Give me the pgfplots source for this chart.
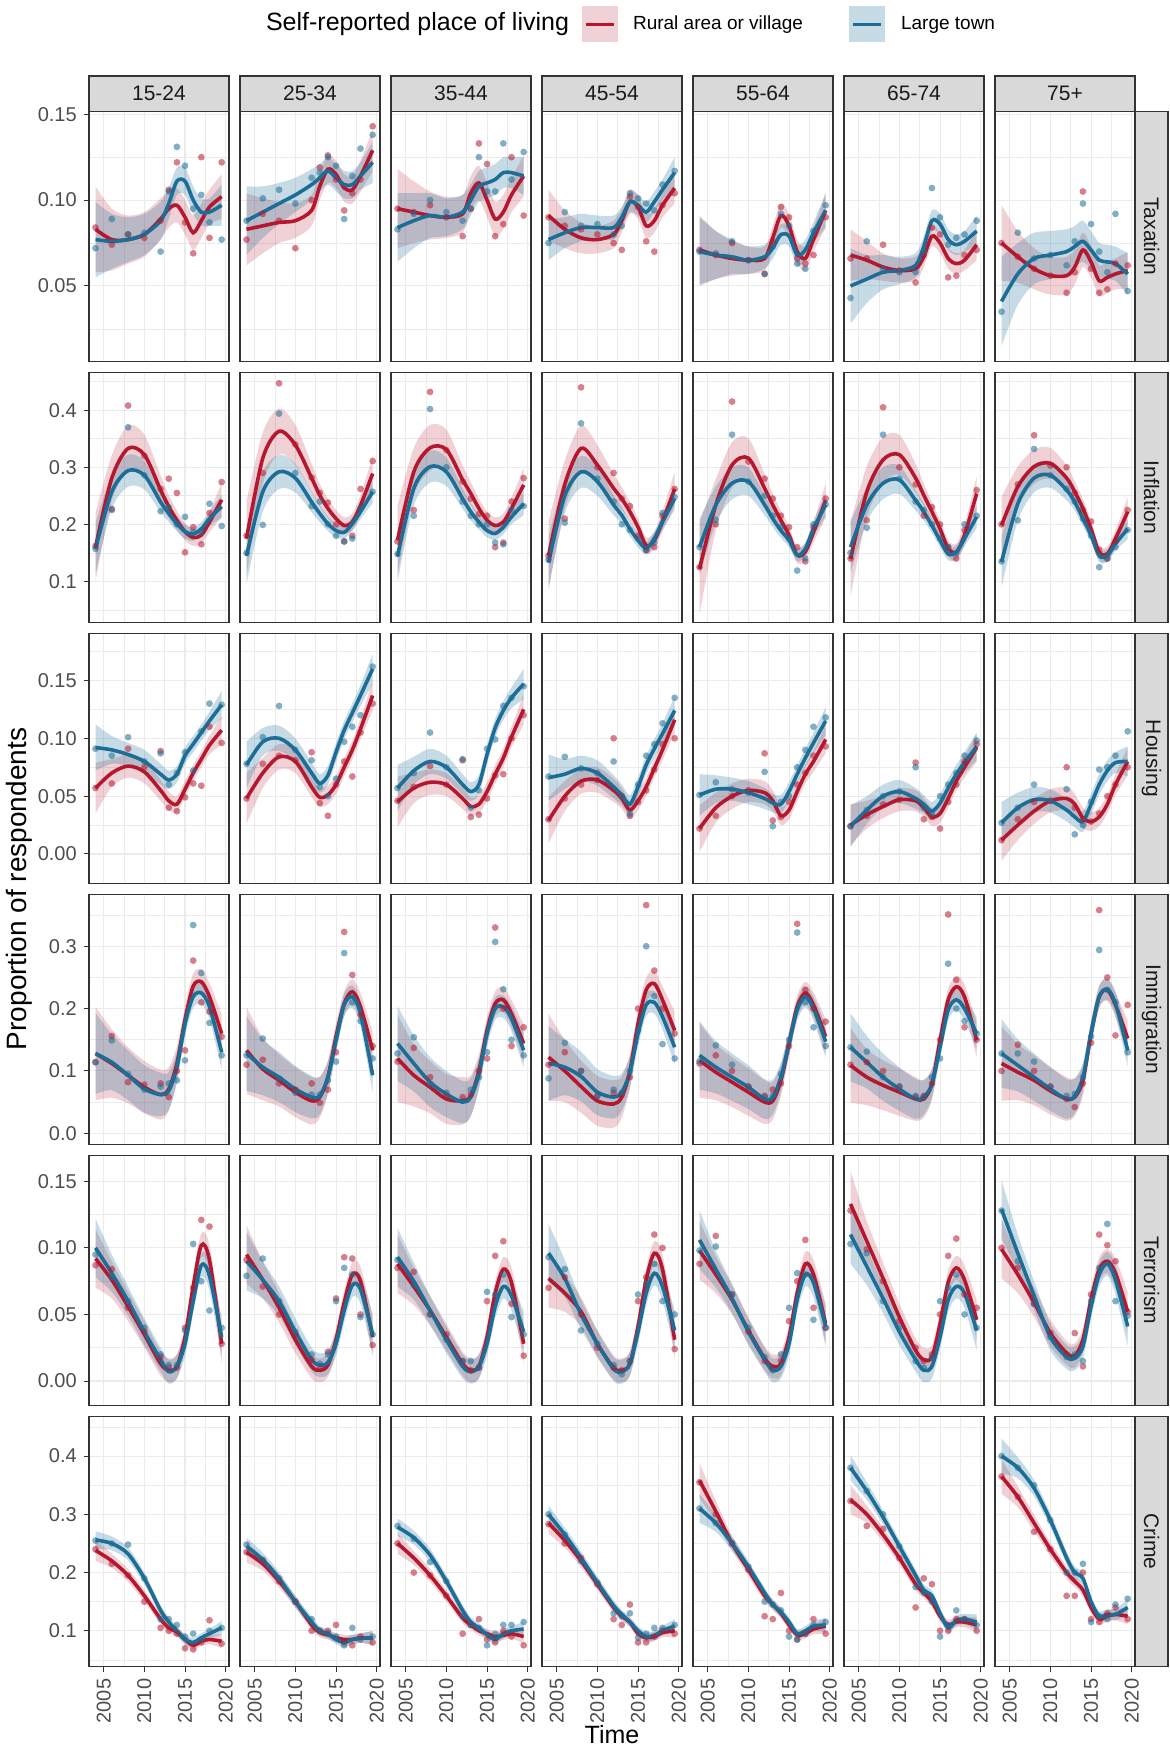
\documentclass[border=0pt]{standalone}
\usepackage{fontspec}
\setmainfont{Liberation Sans}
\usepackage{pgfplots}
\pgfplotsset{compat=1.18}
\usepackage{pgfplotstable}
\usepgfplotslibrary{groupplots,fillbetween}
\definecolor{rurc}{HTML}{B5172F}
\definecolor{lrgc}{HTML}{1C6E96}
\definecolor{stripg}{HTML}{D9D9D9}
\definecolor{frameg}{HTML}{333333}
\definecolor{gridmaj}{HTML}{EBEBEB}
\definecolor{ticktext}{HTML}{4D4D4D}
\definecolor{striptext}{HTML}{1A1A1A}
\newcommand{\drawpanel}[1]{%
\addplot[name path=rh,draw=none,smooth] table[x=x,y expr=\thisrow{r}+\thisrow{rw}]{#1};
\addplot[name path=rl,draw=none,smooth] table[x=x,y expr=\thisrow{r}-\thisrow{rw}]{#1};
\addplot[fill=rurc,fill opacity=0.2,draw=none] fill between[of=rh and rl];
\addplot[name path=bh,draw=none,smooth] table[x=x,y expr=\thisrow{b}+\thisrow{bw}]{#1};
\addplot[name path=bl,draw=none,smooth] table[x=x,y expr=\thisrow{b}-\thisrow{bw}]{#1};
\addplot[fill=lrgc,fill opacity=0.25,draw=none] fill between[of=bh and bl];
\addplot[only marks,mark=*,mark size=1.7pt,rurc,mark options={fill opacity=0.55,draw opacity=0}] table[x=x,y=rp]{#1};
\addplot[only marks,mark=*,mark size=1.7pt,lrgc,mark options={fill opacity=0.55,draw opacity=0}] table[x=x,y=bp]{#1};
\addplot[rurc,line width=1.8pt,smooth] table[x=x,y=r]{#1};
\addplot[lrgc,line width=1.8pt,smooth] table[x=x,y=b]{#1};
}
\begin{document}
% ---------------- Taxation
\pgfplotstableread{
x r rw b bw rp bp
2004 0.083 0.025 0.077 0.022 0.084 0.072
2006 0.077 0.018 0.076 0.016 0.074 0.089
2008 0.077 0.014 0.077 0.013 0.080 0.080
2010 0.080 0.013 0.080 0.012 0.078 0.081
2012 0.089 0.012 0.088 0.011 0.088 0.070
2013 0.095 0.011 0.098 0.009 0.106 0.105
2014 0.097 0.010 0.111 0.008 0.122 0.131
2015 0.090 0.010 0.111 0.008 0.087 0.120
2016 0.081 0.010 0.100 0.008 0.069 0.095
2017 0.088 0.010 0.093 0.008 0.125 0.103
2018 0.096 0.010 0.093 0.008 0.078 0.087
2019.5 0.102 0.013 0.097 0.012 0.122 0.077
}\tAa
\pgfplotstableread{
x r rw b bw rp bp
2004 0.083 0.021 0.088 0.020 0.077 0.088
2006 0.085 0.016 0.093 0.015 0.092 0.101
2008 0.087 0.012 0.098 0.012 0.088 0.106
2010 0.088 0.010 0.103 0.010 0.072 0.098
2012 0.094 0.009 0.109 0.009 0.100 0.113
2013 0.108 0.008 0.113 0.008 0.119 0.116
2014 0.118 0.008 0.117 0.008 0.126 0.125
2015 0.115 0.008 0.113 0.008 0.112 0.120
2016 0.107 0.008 0.109 0.008 0.094 0.089
2017 0.106 0.008 0.109 0.008 0.104 0.114
2018 0.114 0.009 0.114 0.008 0.112 0.130
2019.5 0.129 0.012 0.122 0.012 0.143 0.138
}\tAb
\pgfplotstableread{
x r rw b bw rp bp
2004 0.095 0.023 0.084 0.020 0.095 0.083
2006 0.093 0.018 0.088 0.016 0.093 0.092
2008 0.091 0.014 0.091 0.013 0.097 0.100
2010 0.090 0.012 0.090 0.011 0.090 0.093
2012 0.092 0.011 0.093 0.010 0.079 0.088
2013 0.104 0.010 0.100 0.009 0.095 0.095
2014 0.110 0.010 0.108 0.009 0.133 0.125
2015 0.100 0.010 0.110 0.009 0.121 0.105
2016 0.089 0.010 0.112 0.009 0.079 0.105
2017 0.093 0.010 0.116 0.009 0.086 0.133
2018 0.103 0.010 0.116 0.009 0.125 0.112
2019.5 0.114 0.012 0.114 0.011 0.091 0.128
}\tAc
\pgfplotstableread{
x r rw b bw rp bp
2004 0.091 0.015 0.077 0.012 0.090 0.075
2006 0.083 0.011 0.081 0.009 0.085 0.093
2008 0.078 0.009 0.084 0.008 0.083 0.085
2010 0.077 0.008 0.084 0.007 0.080 0.086
2012 0.080 0.008 0.084 0.007 0.075 0.080
2013 0.088 0.007 0.090 0.006 0.071 0.085
2014 0.099 0.007 0.099 0.006 0.102 0.104
2015 0.096 0.007 0.097 0.006 0.096 0.101
2016 0.085 0.007 0.093 0.006 0.076 0.098
2017 0.088 0.007 0.099 0.006 0.070 0.094
2018 0.097 0.007 0.106 0.006 0.097 0.109
2019.5 0.107 0.009 0.116 0.009 0.104 0.117
}\tAd
\pgfplotstableread{
x r rw b bw rp bp
2004 0.071 0.020 0.070 0.020 0.071 0.070
2006 0.068 0.014 0.068 0.014 0.068 0.069
2008 0.066 0.010 0.067 0.010 0.075 0.076
2010 0.065 0.008 0.065 0.008 0.065 0.065
2012 0.066 0.007 0.067 0.007 0.057 0.057
2013 0.078 0.007 0.072 0.006 0.076 0.073
2014 0.091 0.007 0.080 0.006 0.096 0.092
2015 0.085 0.007 0.079 0.006 0.090 0.085
2016 0.070 0.007 0.068 0.006 0.066 0.063
2017 0.066 0.007 0.071 0.006 0.063 0.060
2018 0.077 0.007 0.081 0.006 0.068 0.082
2019.5 0.094 0.010 0.094 0.010 0.090 0.097
}\tAe
\pgfplotstableread{
x r rw b bw rp bp
2004 0.068 0.015 0.050 0.022 0.066 0.043
2006 0.065 0.011 0.054 0.014 0.066 0.076
2008 0.061 0.008 0.058 0.010 0.074 0.060
2010 0.059 0.007 0.059 0.008 0.059 0.058
2012 0.060 0.007 0.062 0.007 0.052 0.058
2013 0.067 0.006 0.073 0.006 0.068 0.070
2014 0.079 0.006 0.088 0.006 0.084 0.107
2015 0.075 0.006 0.086 0.006 0.080 0.090
2016 0.066 0.006 0.077 0.006 0.055 0.074
2017 0.063 0.006 0.074 0.006 0.056 0.078
2018 0.065 0.006 0.076 0.006 0.068 0.080
2019.5 0.074 0.009 0.082 0.009 0.071 0.088
}\tAf
\pgfplotstableread{
x r rw b bw rp bp
2004 0.075 0.022 0.041 0.026 0.075 0.035
2006 0.067 0.015 0.057 0.018 0.067 0.081
2008 0.060 0.012 0.066 0.015 0.060 0.066
2010 0.056 0.011 0.068 0.014 0.056 0.068
2012 0.056 0.011 0.070 0.013 0.046 0.062
2013 0.061 0.010 0.073 0.012 0.058 0.076
2014 0.071 0.010 0.076 0.012 0.105 0.098
2015 0.064 0.009 0.071 0.011 0.060 0.086
2016 0.053 0.009 0.065 0.010 0.046 0.070
2017 0.055 0.009 0.064 0.010 0.048 0.058
2018 0.057 0.009 0.063 0.010 0.063 0.092
2019.5 0.059 0.011 0.057 0.012 0.062 0.047
}\tAg
% ---------------- Inflation
\pgfplotstableread{
x r rw b bw rp bp
2004 0.160 0.060 0.157 0.045 0.162 0.157
2006 0.281 0.040 0.257 0.030 0.227 0.225
2008 0.333 0.040 0.294 0.028 0.408 0.370
2010 0.322 0.035 0.286 0.025 0.320 0.286
2012 0.260 0.025 0.239 0.018 0.262 0.223
2013 0.231 0.020 0.219 0.015 0.280 0.230
2014 0.207 0.017 0.201 0.013 0.255 0.200
2015 0.187 0.015 0.187 0.012 0.151 0.213
2016 0.177 0.015 0.183 0.012 0.195 0.186
2017 0.181 0.015 0.192 0.012 0.165 0.186
2018 0.204 0.018 0.210 0.013 0.220 0.236
2019.5 0.243 0.030 0.231 0.020 0.274 0.197
}\tBa
\pgfplotstableread{
x r rw b bw rp bp
2004 0.175 0.065 0.145 0.050 0.180 0.150
2006 0.316 0.045 0.257 0.035 0.290 0.199
2008 0.363 0.040 0.292 0.030 0.447 0.394
2010 0.339 0.035 0.281 0.025 0.340 0.290
2012 0.281 0.025 0.239 0.018 0.282 0.232
2013 0.251 0.020 0.219 0.015 0.255 0.240
2014 0.228 0.017 0.201 0.013 0.238 0.200
2015 0.210 0.015 0.189 0.012 0.200 0.180
2016 0.198 0.014 0.186 0.011 0.170 0.170
2017 0.204 0.015 0.201 0.012 0.180 0.175
2018 0.233 0.018 0.222 0.013 0.262 0.228
2019.5 0.289 0.030 0.257 0.020 0.311 0.257
}\tBb
\pgfplotstableread{
x r rw b bw rp bp
2004 0.172 0.060 0.144 0.045 0.170 0.148
2006 0.292 0.042 0.263 0.030 0.225 0.215
2008 0.334 0.040 0.301 0.028 0.432 0.402
2010 0.331 0.035 0.292 0.025 0.330 0.300
2012 0.278 0.025 0.245 0.018 0.275 0.240
2013 0.254 0.020 0.222 0.015 0.245 0.215
2014 0.228 0.017 0.204 0.013 0.218 0.200
2015 0.207 0.015 0.189 0.012 0.215 0.200
2016 0.198 0.014 0.184 0.011 0.160 0.168
2017 0.204 0.015 0.195 0.012 0.168 0.165
2018 0.228 0.018 0.213 0.013 0.240 0.225
2019.5 0.269 0.030 0.236 0.020 0.281 0.232
}\tBc
\pgfplotstableread{
x r rw b bw rp bp
2004 0.145 0.060 0.133 0.045 0.145 0.138
2006 0.270 0.042 0.250 0.030 0.210 0.203
2008 0.333 0.040 0.292 0.028 0.440 0.377
2010 0.304 0.035 0.275 0.025 0.300 0.280
2012 0.263 0.025 0.234 0.018 0.290 0.240
2013 0.245 0.020 0.216 0.015 0.245 0.200
2014 0.222 0.017 0.192 0.013 0.232 0.190
2015 0.195 0.015 0.172 0.012 0.180 0.175
2016 0.163 0.014 0.158 0.011 0.155 0.155
2017 0.172 0.015 0.175 0.012 0.160 0.168
2018 0.205 0.018 0.204 0.013 0.215 0.220
2019.5 0.262 0.030 0.245 0.020 0.262 0.248
}\tBd
\pgfplotstableread{
x r rw b bw rp bp
2004 0.122 0.080 0.160 0.050 0.125 0.160
2006 0.234 0.045 0.234 0.032 0.200 0.208
2008 0.304 0.040 0.272 0.028 0.415 0.357
2010 0.316 0.035 0.275 0.025 0.310 0.275
2012 0.263 0.025 0.234 0.018 0.280 0.250
2013 0.234 0.020 0.210 0.015 0.245 0.215
2014 0.207 0.017 0.189 0.013 0.215 0.195
2015 0.181 0.015 0.172 0.012 0.195 0.175
2016 0.146 0.014 0.146 0.011 0.160 0.119
2017 0.152 0.015 0.157 0.012 0.135 0.140
2018 0.186 0.018 0.192 0.013 0.195 0.200
2019.5 0.242 0.030 0.234 0.020 0.245 0.235
}\tBe
\pgfplotstableread{
x r rw b bw rp bp
2004 0.139 0.065 0.160 0.045 0.140 0.150
2006 0.257 0.045 0.234 0.030 0.207 0.194
2008 0.313 0.040 0.272 0.028 0.405 0.357
2010 0.322 0.035 0.278 0.025 0.300 0.280
2012 0.281 0.025 0.242 0.018 0.270 0.240
2013 0.251 0.020 0.222 0.015 0.215 0.225
2014 0.222 0.017 0.198 0.013 0.230 0.200
2015 0.192 0.015 0.172 0.012 0.200 0.175
2016 0.158 0.014 0.148 0.011 0.160 0.160
2017 0.151 0.015 0.151 0.012 0.140 0.150
2018 0.181 0.018 0.175 0.013 0.190 0.200
2019.5 0.254 0.030 0.213 0.020 0.260 0.215
}\tBf
\pgfplotstableread{
x r rw b bw rp bp
2004 0.198 0.050 0.134 0.045 0.200 0.135
2006 0.266 0.035 0.236 0.030 0.270 0.207
2008 0.301 0.030 0.281 0.025 0.356 0.332
2010 0.307 0.027 0.286 0.022 0.303 0.286
2012 0.281 0.022 0.260 0.018 0.300 0.262
2013 0.257 0.018 0.239 0.015 0.255 0.240
2014 0.228 0.016 0.210 0.013 0.225 0.210
2015 0.192 0.014 0.181 0.012 0.205 0.180
2016 0.151 0.013 0.145 0.011 0.155 0.125
2017 0.148 0.013 0.145 0.011 0.140 0.140
2018 0.175 0.015 0.166 0.012 0.170 0.160
2019.5 0.222 0.025 0.192 0.018 0.225 0.190
}\tBg
% ---------------- Housing
\pgfplotstableread{
x r rw b bw rp bp
2004 0.057 0.022 0.092 0.020 0.057 0.091
2006 0.070 0.012 0.090 0.012 0.061 0.085
2008 0.076 0.010 0.086 0.010 0.091 0.101
2010 0.071 0.010 0.080 0.010 0.075 0.080
2012 0.055 0.009 0.069 0.009 0.089 0.087
2013 0.046 0.008 0.064 0.008 0.040 0.060
2014 0.043 0.007 0.069 0.007 0.037 0.070
2015 0.056 0.007 0.085 0.007 0.049 0.088
2016 0.070 0.007 0.095 0.007 0.061 0.072
2017 0.082 0.007 0.105 0.007 0.059 0.106
2018 0.094 0.008 0.115 0.008 0.110 0.130
2019.5 0.107 0.012 0.129 0.012 0.096 0.129
}\tCa
\pgfplotstableread{
x r rw b bw rp bp
2004 0.048 0.022 0.077 0.020 0.048 0.078
2006 0.070 0.013 0.097 0.012 0.078 0.101
2008 0.084 0.011 0.100 0.011 0.085 0.128
2010 0.080 0.010 0.090 0.010 0.081 0.090
2012 0.058 0.009 0.070 0.009 0.088 0.081
2013 0.049 0.008 0.061 0.008 0.044 0.058
2014 0.051 0.008 0.068 0.008 0.033 0.050
2015 0.060 0.008 0.088 0.008 0.060 0.065
2016 0.075 0.008 0.107 0.008 0.080 0.097
2017 0.090 0.008 0.122 0.008 0.067 0.110
2018 0.108 0.009 0.137 0.009 0.105 0.120
2019.5 0.137 0.013 0.160 0.013 0.130 0.162
}\tCb
\pgfplotstableread{
x r rw b bw rp bp
2004 0.045 0.022 0.057 0.020 0.046 0.057
2006 0.057 0.013 0.072 0.012 0.058 0.070
2008 0.062 0.011 0.080 0.011 0.076 0.105
2010 0.060 0.010 0.075 0.010 0.060 0.075
2012 0.048 0.009 0.060 0.009 0.081 0.082
2013 0.041 0.008 0.054 0.008 0.032 0.040
2014 0.043 0.008 0.060 0.008 0.034 0.055
2015 0.054 0.008 0.086 0.008 0.048 0.091
2016 0.069 0.008 0.109 0.008 0.068 0.099
2017 0.083 0.008 0.124 0.008 0.069 0.128
2018 0.101 0.009 0.135 0.009 0.100 0.135
2019.5 0.125 0.013 0.147 0.013 0.120 0.145
}\tCc
\pgfplotstableread{
x r rw b bw rp bp
2004 0.029 0.020 0.066 0.020 0.030 0.067
2006 0.050 0.013 0.069 0.013 0.048 0.084
2008 0.063 0.011 0.074 0.011 0.060 0.074
2010 0.064 0.011 0.070 0.011 0.064 0.070
2012 0.055 0.010 0.058 0.010 0.100 0.080
2013 0.048 0.009 0.051 0.009 0.050 0.050
2014 0.038 0.008 0.043 0.008 0.033 0.035
2015 0.046 0.008 0.058 0.008 0.045 0.060
2016 0.058 0.008 0.077 0.008 0.055 0.085
2017 0.074 0.008 0.091 0.008 0.073 0.095
2018 0.090 0.009 0.104 0.009 0.095 0.113
2019.5 0.116 0.012 0.124 0.012 0.100 0.135
}\tCd
\pgfplotstableread{
x r rw b bw rp bp
2004 0.022 0.020 0.051 0.018 0.022 0.051
2006 0.040 0.013 0.056 0.012 0.033 0.062
2008 0.050 0.011 0.056 0.010 0.050 0.056
2010 0.055 0.010 0.053 0.010 0.055 0.053
2012 0.053 0.010 0.048 0.009 0.087 0.071
2013 0.046 0.009 0.044 0.008 0.029 0.024
2014 0.033 0.008 0.043 0.008 0.032 0.045
2015 0.038 0.008 0.054 0.008 0.045 0.050
2016 0.054 0.008 0.069 0.008 0.060 0.075
2017 0.069 0.008 0.083 0.008 0.070 0.090
2018 0.080 0.009 0.096 0.009 0.085 0.110
2019.5 0.099 0.012 0.115 0.012 0.093 0.118
}\tCe
\pgfplotstableread{
x r rw b bw rp bp
2004 0.025 0.018 0.024 0.018 0.024 0.024
2006 0.034 0.012 0.038 0.012 0.033 0.038
2008 0.041 0.010 0.050 0.010 0.043 0.050
2010 0.047 0.010 0.054 0.010 0.047 0.054
2012 0.046 0.009 0.048 0.009 0.079 0.075
2013 0.040 0.008 0.043 0.008 0.030 0.040
2014 0.032 0.008 0.037 0.008 0.032 0.035
2015 0.035 0.008 0.044 0.008 0.022 0.050
2016 0.048 0.008 0.057 0.008 0.045 0.060
2017 0.063 0.008 0.069 0.008 0.060 0.070
2018 0.075 0.009 0.079 0.009 0.080 0.085
2019.5 0.092 0.012 0.093 0.012 0.095 0.098
}\tCf
\pgfplotstableread{
x r rw b bw rp bp
2004 0.012 0.018 0.027 0.018 0.012 0.027
2006 0.025 0.013 0.040 0.013 0.030 0.040
2008 0.037 0.011 0.047 0.011 0.045 0.060
2010 0.046 0.010 0.046 0.010 0.046 0.046
2012 0.048 0.010 0.038 0.010 0.075 0.056
2013 0.043 0.009 0.032 0.009 0.040 0.017
2014 0.031 0.009 0.028 0.009 0.030 0.025
2015 0.028 0.008 0.043 0.009 0.028 0.045
2016 0.032 0.008 0.060 0.009 0.035 0.073
2017 0.043 0.008 0.072 0.009 0.050 0.075
2018 0.060 0.009 0.079 0.009 0.060 0.085
2019.5 0.080 0.012 0.080 0.013 0.075 0.106
}\tCg
% ---------------- Immigration
\pgfplotstableread{
x r rw b bw rp bp
2004 0.128 0.075 0.128 0.065 0.114 0.114
2006 0.112 0.055 0.114 0.045 0.156 0.149
2008 0.093 0.045 0.093 0.040 0.082 0.095
2010 0.074 0.042 0.071 0.038 0.078 0.070
2012 0.062 0.040 0.062 0.035 0.080 0.075
2013 0.071 0.035 0.068 0.030 0.058 0.080
2014 0.112 0.028 0.106 0.025 0.100 0.085
2015 0.182 0.022 0.176 0.020 0.133 0.117
2016 0.236 0.020 0.219 0.018 0.277 0.334
2017 0.243 0.020 0.225 0.018 0.210 0.257
2018 0.219 0.022 0.203 0.020 0.195 0.177
2019.5 0.160 0.030 0.130 0.028 0.155 0.125
}\tDa
\pgfplotstableread{
x r rw b bw rp bp
2004 0.133 0.070 0.128 0.060 0.110 0.125
2006 0.103 0.050 0.106 0.045 0.118 0.152
2008 0.085 0.042 0.090 0.040 0.080 0.088
2010 0.066 0.040 0.071 0.037 0.070 0.065
2012 0.052 0.038 0.058 0.034 0.080 0.062
2013 0.058 0.033 0.060 0.030 0.049 0.062
2014 0.090 0.027 0.090 0.025 0.070 0.085
2015 0.155 0.022 0.149 0.020 0.130 0.115
2016 0.208 0.020 0.206 0.018 0.323 0.289
2017 0.227 0.020 0.219 0.018 0.254 0.210
2018 0.203 0.022 0.192 0.020 0.190 0.180
2019.5 0.133 0.030 0.093 0.028 0.140 0.120
}\tDb
\pgfplotstableread{
x r rw b bw rp bp
2004 0.120 0.070 0.144 0.060 0.115 0.128
2006 0.093 0.050 0.112 0.045 0.137 0.154
2008 0.074 0.042 0.082 0.040 0.090 0.080
2010 0.055 0.040 0.063 0.037 0.060 0.065
2012 0.052 0.038 0.050 0.034 0.058 0.052
2013 0.060 0.033 0.058 0.030 0.062 0.070
2014 0.100 0.027 0.095 0.025 0.100 0.090
2015 0.165 0.022 0.160 0.020 0.120 0.130
2016 0.208 0.020 0.200 0.018 0.330 0.307
2017 0.214 0.020 0.203 0.018 0.200 0.231
2018 0.192 0.022 0.184 0.020 0.140 0.150
2019.5 0.144 0.030 0.133 0.028 0.170 0.125
}\tDc
\pgfplotstableread{
x r rw b bw rp bp
2004 0.122 0.070 0.112 0.060 0.110 0.088
2006 0.100 0.050 0.106 0.045 0.130 0.145
2008 0.075 0.042 0.091 0.040 0.100 0.100
2010 0.052 0.040 0.066 0.037 0.060 0.060
2012 0.047 0.038 0.058 0.034 0.065 0.070
2013 0.058 0.033 0.066 0.030 0.062 0.065
2014 0.100 0.027 0.098 0.025 0.090 0.100
2015 0.176 0.022 0.160 0.020 0.200 0.165
2016 0.230 0.020 0.206 0.018 0.366 0.300
2017 0.240 0.020 0.210 0.018 0.261 0.220
2018 0.214 0.022 0.187 0.020 0.200 0.143
2019.5 0.165 0.030 0.138 0.028 0.160 0.120
}\tDd
\pgfplotstableread{
x r rw b bw rp bp
2004 0.117 0.060 0.125 0.055 0.112 0.116
2006 0.098 0.045 0.106 0.042 0.125 0.141
2008 0.082 0.040 0.090 0.038 0.100 0.110
2010 0.066 0.038 0.074 0.035 0.075 0.075
2012 0.050 0.035 0.055 0.032 0.060 0.058
2013 0.052 0.030 0.058 0.028 0.070 0.060
2014 0.085 0.025 0.090 0.023 0.080 0.095
2015 0.144 0.020 0.144 0.019 0.140 0.150
2016 0.203 0.018 0.198 0.017 0.336 0.322
2017 0.225 0.018 0.219 0.017 0.230 0.210
2018 0.206 0.020 0.200 0.019 0.200 0.170
2019.5 0.155 0.028 0.147 0.026 0.179 0.140
}\tDe
\pgfplotstableread{
x r rw b bw rp bp
2004 0.109 0.060 0.138 0.055 0.110 0.138
2006 0.090 0.045 0.114 0.042 0.114 0.131
2008 0.077 0.040 0.090 0.038 0.100 0.090
2010 0.066 0.038 0.071 0.035 0.075 0.075
2012 0.055 0.035 0.055 0.032 0.058 0.060
2013 0.055 0.030 0.058 0.028 0.060 0.058
2014 0.079 0.025 0.079 0.023 0.080 0.090
2015 0.149 0.020 0.138 0.019 0.150 0.120
2016 0.214 0.018 0.198 0.017 0.351 0.272
2017 0.235 0.018 0.214 0.017 0.246 0.200
2018 0.219 0.020 0.200 0.019 0.170 0.180
2019.5 0.149 0.028 0.160 0.026 0.150 0.160
}\tDf
\pgfplotstableread{
x r rw b bw rp bp
2004 0.112 0.060 0.128 0.055 0.100 0.128
2006 0.098 0.045 0.109 0.042 0.142 0.128
2008 0.085 0.040 0.090 0.038 0.100 0.115
2010 0.068 0.038 0.071 0.035 0.075 0.075
2012 0.055 0.035 0.055 0.032 0.055 0.060
2013 0.058 0.030 0.060 0.028 0.042 0.063
2014 0.085 0.025 0.090 0.023 0.080 0.090
2015 0.160 0.020 0.160 0.019 0.145 0.155
2016 0.219 0.018 0.219 0.017 0.358 0.294
2017 0.230 0.018 0.231 0.017 0.250 0.230
2018 0.206 0.020 0.208 0.019 0.157 0.210
2019.5 0.152 0.028 0.133 0.026 0.206 0.130
}\tDg
% ---------------- Terrorism
\pgfplotstableread{
x r rw b bw rp bp
2004 0.092 0.022 0.100 0.022 0.087 0.095
2006 0.076 0.014 0.081 0.014 0.084 0.078
2008 0.056 0.011 0.060 0.011 0.055 0.060
2010 0.035 0.010 0.037 0.010 0.037 0.040
2012 0.013 0.009 0.016 0.009 0.018 0.020
2013 0.008 0.009 0.007 0.009 0.010 0.012
2014 0.011 0.009 0.011 0.009 0.010 0.012
2015 0.033 0.009 0.028 0.009 0.040 0.038
2016 0.071 0.009 0.060 0.009 0.070 0.103
2017 0.102 0.009 0.087 0.009 0.121 0.075
2018 0.091 0.011 0.079 0.011 0.116 0.053
2019.5 0.028 0.015 0.033 0.015 0.028 0.040
}\tEa
\pgfplotstableread{
x r rw b bw rp bp
2004 0.095 0.022 0.090 0.022 0.091 0.079
2006 0.076 0.014 0.076 0.014 0.071 0.092
2008 0.055 0.011 0.060 0.011 0.050 0.060
2010 0.031 0.010 0.037 0.010 0.035 0.037
2012 0.011 0.009 0.016 0.009 0.016 0.020
2013 0.008 0.009 0.012 0.009 0.010 0.013
2014 0.012 0.009 0.014 0.009 0.022 0.020
2015 0.031 0.009 0.028 0.009 0.062 0.060
2016 0.059 0.009 0.053 0.009 0.093 0.085
2017 0.080 0.009 0.072 0.009 0.092 0.080
2018 0.075 0.011 0.069 0.011 0.050 0.048
2019.5 0.033 0.015 0.035 0.015 0.027 0.035
}\tEb
\pgfplotstableread{
x r rw b bw rp bp
2004 0.088 0.022 0.093 0.022 0.085 0.091
2006 0.071 0.014 0.075 0.014 0.082 0.072
2008 0.053 0.011 0.053 0.011 0.050 0.050
2010 0.033 0.010 0.031 0.010 0.035 0.031
2012 0.013 0.009 0.011 0.009 0.015 0.015
2013 0.008 0.009 0.007 0.009 0.008 0.015
2014 0.011 0.009 0.011 0.009 0.010 0.010
2015 0.033 0.009 0.028 0.009 0.060 0.067
2016 0.066 0.009 0.056 0.009 0.094 0.065
2017 0.084 0.009 0.071 0.009 0.105 0.080
2018 0.074 0.011 0.064 0.011 0.058 0.048
2019.5 0.028 0.015 0.037 0.015 0.019 0.035
}\tEc
\pgfplotstableread{
x r rw b bw rp bp
2004 0.077 0.022 0.096 0.022 0.070 0.093
2006 0.066 0.014 0.077 0.014 0.078 0.084
2008 0.052 0.011 0.050 0.011 0.050 0.038
2010 0.028 0.010 0.028 0.010 0.025 0.028
2012 0.010 0.009 0.009 0.009 0.010 0.012
2013 0.008 0.009 0.007 0.009 0.008 0.005
2014 0.013 0.009 0.013 0.009 0.015 0.015
2015 0.041 0.009 0.037 0.009 0.060 0.065
2016 0.076 0.009 0.066 0.009 0.078 0.073
2017 0.096 0.009 0.081 0.009 0.110 0.088
2018 0.084 0.011 0.071 0.011 0.100 0.060
2019.5 0.031 0.015 0.038 0.015 0.024 0.050
}\tEd
\pgfplotstableread{
x r rw b bw rp bp
2004 0.098 0.022 0.106 0.022 0.088 0.098
2006 0.080 0.014 0.084 0.014 0.109 0.101
2008 0.061 0.011 0.062 0.011 0.065 0.065
2010 0.038 0.010 0.037 0.010 0.037 0.040
2012 0.017 0.009 0.016 0.009 0.015 0.018
2013 0.011 0.009 0.008 0.009 0.010 0.008
2014 0.013 0.009 0.011 0.009 0.015 0.020
2015 0.033 0.009 0.028 0.009 0.045 0.055
2016 0.066 0.009 0.061 0.009 0.075 0.081
2017 0.088 0.009 0.080 0.009 0.106 0.080
2018 0.080 0.011 0.074 0.011 0.055 0.046
2019.5 0.043 0.015 0.041 0.015 0.040 0.040
}\tEe
\pgfplotstableread{
x r rw b bw rp bp
2004 0.133 0.025 0.110 0.022 0.128 0.103
2006 0.105 0.015 0.086 0.014 0.099 0.096
2008 0.077 0.012 0.062 0.011 0.075 0.060
2010 0.048 0.010 0.037 0.010 0.045 0.040
2012 0.023 0.009 0.016 0.009 0.025 0.015
2013 0.016 0.009 0.008 0.009 0.015 0.010
2014 0.018 0.009 0.011 0.009 0.020 0.018
2015 0.043 0.009 0.033 0.009 0.050 0.060
2016 0.074 0.009 0.061 0.009 0.094 0.070
2017 0.085 0.009 0.071 0.009 0.107 0.080
2018 0.076 0.011 0.066 0.011 0.065 0.050
2019.5 0.046 0.015 0.038 0.015 0.055 0.040
}\tEf
\pgfplotstableread{
x r rw b bw rp bp
2004 0.099 0.022 0.129 0.022 0.100 0.128
2006 0.080 0.014 0.096 0.014 0.085 0.090
2008 0.059 0.011 0.064 0.011 0.058 0.058
2010 0.036 0.010 0.033 0.010 0.036 0.033
2012 0.021 0.009 0.018 0.009 0.020 0.018
2013 0.019 0.009 0.017 0.009 0.036 0.020
2014 0.031 0.009 0.026 0.009 0.011 0.015
2015 0.061 0.009 0.056 0.009 0.065 0.060
2016 0.084 0.009 0.080 0.009 0.110 0.085
2017 0.090 0.009 0.088 0.009 0.102 0.118
2018 0.081 0.011 0.076 0.011 0.090 0.060
2019.5 0.052 0.015 0.041 0.015 0.052 0.049
}\tEg
% ---------------- Crime
\pgfplotstableread{
x r rw b bw rp bp
2004 0.238 0.018 0.256 0.015 0.240 0.255
2006 0.220 0.012 0.250 0.012 0.215 0.250
2008 0.195 0.011 0.232 0.011 0.195 0.248
2010 0.160 0.010 0.190 0.010 0.150 0.190
2012 0.120 0.009 0.135 0.009 0.105 0.120
2013 0.105 0.008 0.115 0.008 0.100 0.120
2014 0.098 0.008 0.100 0.008 0.095 0.110
2015 0.085 0.008 0.085 0.008 0.070 0.090
2016 0.075 0.008 0.080 0.008 0.068 0.095
2017 0.082 0.008 0.088 0.008 0.080 0.085
2018 0.085 0.008 0.095 0.008 0.118 0.100
2019.5 0.082 0.012 0.105 0.012 0.078 0.105
}\tFa
\pgfplotstableread{
x r rw b bw rp bp
2004 0.235 0.018 0.245 0.015 0.235 0.248
2006 0.215 0.012 0.222 0.012 0.220 0.222
2008 0.185 0.011 0.190 0.011 0.185 0.190
2010 0.150 0.010 0.150 0.010 0.150 0.150
2012 0.110 0.009 0.115 0.009 0.100 0.120
2013 0.097 0.008 0.100 0.008 0.100 0.100
2014 0.093 0.008 0.095 0.008 0.100 0.095
2015 0.088 0.008 0.085 0.008 0.110 0.090
2016 0.085 0.008 0.080 0.008 0.080 0.075
2017 0.085 0.008 0.085 0.008 0.075 0.105
2018 0.087 0.008 0.088 0.008 0.090 0.085
2019.5 0.088 0.012 0.087 0.012 0.080 0.090
}\tFb
\pgfplotstableread{
x r rw b bw rp bp
2004 0.250 0.018 0.278 0.015 0.250 0.280
2006 0.225 0.012 0.260 0.012 0.200 0.258
2008 0.195 0.011 0.230 0.011 0.195 0.218
2010 0.160 0.010 0.185 0.010 0.160 0.185
2012 0.122 0.009 0.135 0.009 0.095 0.125
2013 0.110 0.008 0.115 0.008 0.110 0.110
2014 0.100 0.008 0.105 0.008 0.120 0.105
2015 0.095 0.008 0.093 0.008 0.085 0.075
2016 0.090 0.008 0.085 0.008 0.080 0.095
2017 0.092 0.008 0.095 0.008 0.100 0.110
2018 0.095 0.008 0.100 0.008 0.090 0.110
2019.5 0.090 0.012 0.103 0.012 0.075 0.115
}\tFc
\pgfplotstableread{
x r rw b bw rp bp
2004 0.285 0.018 0.300 0.015 0.283 0.300
2006 0.255 0.012 0.265 0.012 0.250 0.265
2008 0.220 0.011 0.225 0.011 0.225 0.220
2010 0.180 0.010 0.183 0.010 0.180 0.183
2012 0.140 0.009 0.143 0.009 0.120 0.130
2013 0.125 0.008 0.128 0.008 0.110 0.125
2014 0.115 0.008 0.115 0.008 0.145 0.130
2015 0.095 0.008 0.100 0.008 0.080 0.088
2016 0.088 0.008 0.090 0.008 0.080 0.095
2017 0.090 0.008 0.092 0.008 0.090 0.105
2018 0.097 0.008 0.100 0.008 0.100 0.105
2019.5 0.100 0.012 0.108 0.012 0.095 0.110
}\tFd
\pgfplotstableread{
x r rw b bw rp bp
2004 0.358 0.030 0.310 0.025 0.355 0.310
2006 0.305 0.018 0.285 0.015 0.300 0.285
2008 0.250 0.013 0.250 0.012 0.250 0.250
2010 0.205 0.011 0.210 0.010 0.205 0.210
2012 0.160 0.010 0.165 0.009 0.125 0.150
2013 0.145 0.009 0.145 0.008 0.120 0.145
2014 0.130 0.009 0.132 0.008 0.165 0.135
2015 0.110 0.008 0.115 0.008 0.100 0.090
2016 0.093 0.008 0.095 0.008 0.085 0.085
2017 0.095 0.008 0.100 0.008 0.095 0.095
2018 0.103 0.009 0.108 0.009 0.120 0.110
2019.5 0.108 0.013 0.110 0.012 0.095 0.115
}\tFe
\pgfplotstableread{
x r rw b bw rp bp
2004 0.325 0.025 0.380 0.022 0.323 0.380
2006 0.300 0.015 0.340 0.015 0.280 0.340
2008 0.265 0.012 0.295 0.012 0.275 0.300
2010 0.225 0.011 0.245 0.011 0.225 0.245
2012 0.180 0.010 0.195 0.010 0.140 0.175
2013 0.165 0.009 0.170 0.009 0.190 0.165
2014 0.150 0.009 0.160 0.009 0.180 0.150
2015 0.125 0.009 0.130 0.009 0.100 0.090
2016 0.110 0.009 0.105 0.009 0.100 0.110
2017 0.115 0.009 0.118 0.009 0.120 0.135
2018 0.115 0.009 0.120 0.009 0.120 0.120
2019.5 0.110 0.013 0.115 0.013 0.100 0.110
}\tFf
\pgfplotstableread{
x r rw b bw rp bp
2004 0.365 0.030 0.400 0.030 0.365 0.400
2006 0.330 0.018 0.380 0.018 0.330 0.380
2008 0.285 0.014 0.345 0.014 0.270 0.350
2010 0.240 0.012 0.290 0.012 0.240 0.290
2012 0.200 0.011 0.225 0.011 0.160 0.200
2013 0.185 0.010 0.200 0.010 0.160 0.200
2014 0.170 0.010 0.190 0.010 0.200 0.215
2015 0.140 0.009 0.150 0.009 0.120 0.115
2016 0.120 0.009 0.125 0.009 0.115 0.125
2017 0.125 0.009 0.128 0.009 0.130 0.120
2018 0.128 0.010 0.128 0.010 0.140 0.145
2019.5 0.125 0.014 0.140 0.014 0.120 0.155
}\tFg
\begin{tikzpicture}
\begin{groupplot}[
  group style={group size=7 by 6, horizontal sep=5.5pt, vertical sep=5.5pt,
    xticklabels at=edge bottom, yticklabels at=edge left},
  scale only axis, width=70pt, height=125pt,
  xmin=2003.2, xmax=2020.4,
  xtick={2005,2010,2015,2020}, minor xtick={2007.5,2012.5,2017.5},
  grid=both,
  major grid style={gridmaj, line width=0.55pt},
  minor grid style={gridmaj, line width=0.3pt},
  axis line style={frameg, line width=0.55pt},
  tick align=outside, major tick length=2.6pt, minor tick length=0pt,
  tick style={frameg, line width=0.5pt},
  xtick pos=bottom, ytick pos=left,
  tick label style={font=\fontsize{10}{11}\selectfont, text=ticktext},
  xticklabel style={rotate=90, anchor=east, /pgf/number format/1000 sep={}},
  scaled y ticks=false,
  /pgf/number format/assume math mode=true,
  inner/.style={ymajorticks=false},
  top/.style={xmajorticks=false},
  rA/.style={top, ymin=0.006, ymax=0.1516, ytick={0.05,0.1,0.15}, minor ytick={0.025,0.075,0.125},
    yticklabel style={/pgf/number format/fixed, /pgf/number format/fixed zerofill, /pgf/number format/precision=2}},
  rB/.style={top, ymin=0.028, ymax=0.466, ytick={0.1,0.2,0.3,0.4}, minor ytick={0.05,0.15,0.25,0.35,0.45},
    yticklabel style={/pgf/number format/fixed, /pgf/number format/fixed zerofill, /pgf/number format/precision=1}},
  rC/.style={top, ymin=-0.0255, ymax=0.1906, ytick={0,0.05,0.1,0.15}, minor ytick={-0.025,0.025,0.075,0.125,0.175},
    yticklabel style={/pgf/number format/fixed, /pgf/number format/fixed zerofill, /pgf/number format/precision=2}},
  rD/.style={top, ymin=-0.018, ymax=0.383, ytick={0,0.1,0.2,0.3}, minor ytick={0.05,0.15,0.25,0.35},
    yticklabel style={/pgf/number format/fixed, /pgf/number format/fixed zerofill, /pgf/number format/precision=1}},
  rE/.style={top, ymin=-0.0184, ymax=0.1694, ytick={0,0.05,0.1,0.15}, minor ytick={0.025,0.075,0.125},
    yticklabel style={/pgf/number format/fixed, /pgf/number format/fixed zerofill, /pgf/number format/precision=2}},
  rF/.style={ymin=0.0386, ymax=0.468, ytick={0.1,0.2,0.3,0.4}, minor ytick={0.05,0.15,0.25,0.35,0.45},
    yticklabel style={/pgf/number format/fixed, /pgf/number format/fixed zerofill, /pgf/number format/precision=1}},
]
\nextgroupplot[rA]\drawpanel{\tAa}
\nextgroupplot[rA,inner]\drawpanel{\tAb}
\nextgroupplot[rA,inner]\drawpanel{\tAc}
\nextgroupplot[rA,inner]\drawpanel{\tAd}
\nextgroupplot[rA,inner]\drawpanel{\tAe}
\nextgroupplot[rA,inner]\drawpanel{\tAf}
\nextgroupplot[rA,inner]\drawpanel{\tAg}
\nextgroupplot[rB]\drawpanel{\tBa}
\nextgroupplot[rB,inner]\drawpanel{\tBb}
\nextgroupplot[rB,inner]\drawpanel{\tBc}
\nextgroupplot[rB,inner]\drawpanel{\tBd}
\nextgroupplot[rB,inner]\drawpanel{\tBe}
\nextgroupplot[rB,inner]\drawpanel{\tBf}
\nextgroupplot[rB,inner]\drawpanel{\tBg}
\nextgroupplot[rC]\drawpanel{\tCa}
\nextgroupplot[rC,inner]\drawpanel{\tCb}
\nextgroupplot[rC,inner]\drawpanel{\tCc}
\nextgroupplot[rC,inner]\drawpanel{\tCd}
\nextgroupplot[rC,inner]\drawpanel{\tCe}
\nextgroupplot[rC,inner]\drawpanel{\tCf}
\nextgroupplot[rC,inner]\drawpanel{\tCg}
\nextgroupplot[rD]\drawpanel{\tDa}
\nextgroupplot[rD,inner]\drawpanel{\tDb}
\nextgroupplot[rD,inner]\drawpanel{\tDc}
\nextgroupplot[rD,inner]\drawpanel{\tDd}
\nextgroupplot[rD,inner]\drawpanel{\tDe}
\nextgroupplot[rD,inner]\drawpanel{\tDf}
\nextgroupplot[rD,inner]\drawpanel{\tDg}
\nextgroupplot[rE]\drawpanel{\tEa}
\nextgroupplot[rE,inner]\drawpanel{\tEb}
\nextgroupplot[rE,inner]\drawpanel{\tEc}
\nextgroupplot[rE,inner]\drawpanel{\tEd}
\nextgroupplot[rE,inner]\drawpanel{\tEe}
\nextgroupplot[rE,inner]\drawpanel{\tEf}
\nextgroupplot[rE,inner]\drawpanel{\tEg}
\nextgroupplot[rF]\drawpanel{\tFa}
\nextgroupplot[rF,inner]\drawpanel{\tFb}
\nextgroupplot[rF,inner]\drawpanel{\tFc}
\nextgroupplot[rF,inner]\drawpanel{\tFd}
\nextgroupplot[rF,inner]\drawpanel{\tFe}
\nextgroupplot[rF,inner]\drawpanel{\tFf}
\nextgroupplot[rF,inner]\drawpanel{\tFg}
\end{groupplot}
\coordinate (O) at (group c1r1.north west);
% top strips
\foreach \i/\lab in {1/15-24,2/25-34,3/35-44,4/45-54,5/55-64,6/65-74,7/75+}{
  \draw[fill=stripg, draw=frameg, line width=0.55pt] (group c\i r1.north west) rectangle ([yshift=17.75pt]group c\i r1.north east);
  \node[font=\fontsize{10.5}{12}\selectfont, text=striptext] at ([yshift=8.875pt]group c\i r1.north) {\lab};
}
% right strips
\foreach \j/\lab in {1/Taxation,2/Inflation,3/Housing,4/Immigration,5/Terrorism,6/Crime}{
  \draw[fill=stripg, draw=frameg, line width=0.55pt] (group c7r\j.north east) rectangle ([xshift=16.5pt]group c7r\j.south east);
  \node[rotate=-90, font=\fontsize{10.5}{12}\selectfont, text=striptext] at ([xshift=8.25pt]group c7r\j.east) {\lab};
}
% legend
\node[anchor=west, font=\fontsize{12.5}{14}\selectfont] at ([xshift=85pt, yshift=43.5pt]O) {Self-reported place of living};
\fill[rurc, fill opacity=0.2] ([xshift=246.5pt, yshift=34.5pt]O) rectangle ([xshift=264.5pt, yshift=52.5pt]O);
\draw[rurc, line width=1.8pt] ([xshift=248.5pt, yshift=43.5pt]O) -- ([xshift=262.5pt, yshift=43.5pt]O);
\node[anchor=west, font=\fontsize{9.5}{11}\selectfont] at ([xshift=268.5pt, yshift=43.5pt]O) {Rural area or village};
\fill[lrgc, fill opacity=0.25] ([xshift=380pt, yshift=34.5pt]O) rectangle ([xshift=398pt, yshift=52.5pt]O);
\draw[lrgc, line width=1.8pt] ([xshift=382pt, yshift=43.5pt]O) -- ([xshift=396pt, yshift=43.5pt]O);
\node[anchor=west, font=\fontsize{9.5}{11}\selectfont] at ([xshift=402.5pt, yshift=43.5pt]O) {Large town};
% axis titles
\node[rotate=90, font=\fontsize{14}{16}\selectfont] at ([xshift=-35pt, yshift=-388.75pt]O) {Proportion of respondents};
\node[font=\fontsize{12.5}{14}\selectfont] at ([xshift=261.5pt, yshift=-811.5pt]O) {Time};
\pgfresetboundingbox
\path[use as bounding box] ([xshift=-44.5pt,yshift=55.75pt]O) rectangle ([xshift=540pt,yshift=-818.75pt]O);
\end{tikzpicture}
\end{document}
